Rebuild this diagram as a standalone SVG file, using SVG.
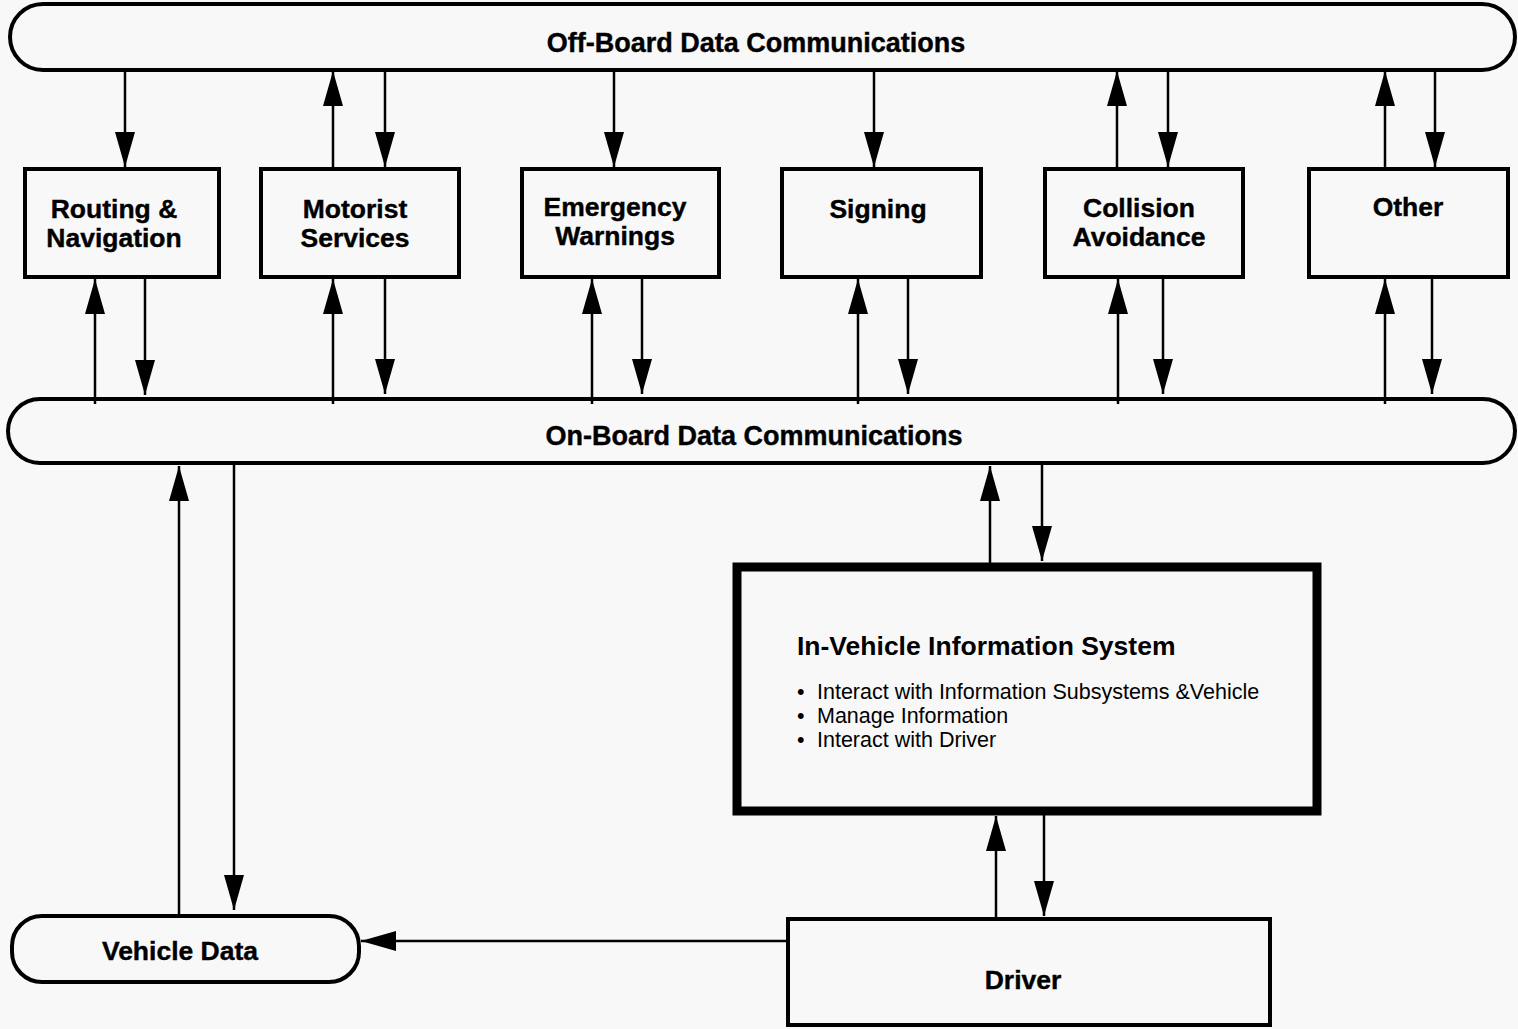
<svg xmlns="http://www.w3.org/2000/svg" width="1518" height="1029" viewBox="0 0 1518 1029">
<defs>
<marker id="ah" markerUnits="userSpaceOnUse" markerWidth="36" markerHeight="22" refX="35" refY="10" orient="auto">
<path d="M0,0 L35,10 L0,20 Z" fill="#000"/>
</marker>
<style>
.bus{fill:none;stroke:#000;stroke-width:4}
.box{fill:none;stroke:#000;stroke-width:4}
.thick{fill:none;stroke:#000;stroke-width:9}
.lbl{font-family:"Liberation Sans",Arial,sans-serif;font-weight:bold;font-size:26.5px;text-anchor:middle;fill:#000;stroke:#000;stroke-width:0.4}
.ttl{font-family:"Liberation Sans",Arial,sans-serif;font-weight:bold;font-size:26.5px;fill:#000}
.bul{font-family:"Liberation Sans",Arial,sans-serif;font-size:21.5px;fill:#000}
.c{fill:none;stroke:#000;stroke-width:2.5;marker-end:url(#ah)}
</style>
</defs>
<rect width="1518" height="1029" fill="#f8f8f8"/>

<g id="offboard">
<rect class="bus" x="10" y="4" width="1505" height="66" rx="33"/>
<text class="lbl" x="756" y="52" style="font-size:27px">Off-Board Data Communications</text>
</g>

<g id="routing">
<rect class="box" x="25" y="169" width="194" height="108"/>
<text class="lbl" x="114" y="218">Routing &amp;</text>
<text class="lbl" x="114" y="247">Navigation</text>
</g>
<g id="motorist">
<rect class="box" x="261" y="169" width="198" height="108"/>
<text class="lbl" x="355" y="218">Motorist</text>
<text class="lbl" x="355" y="247">Services</text>
</g>
<g id="emergency">
<rect class="box" x="522" y="169" width="197" height="108"/>
<text class="lbl" x="615" y="216">Emergency</text>
<text class="lbl" x="615" y="245">Warnings</text>
</g>
<g id="signing">
<rect class="box" x="782" y="169" width="199" height="108"/>
<text class="lbl" x="878" y="218">Signing</text>
</g>
<g id="collision">
<rect class="box" x="1045" y="169" width="198" height="108"/>
<text class="lbl" x="1139" y="217">Collision</text>
<text class="lbl" x="1139" y="246">Avoidance</text>
</g>
<g id="other">
<rect class="box" x="1309" y="169" width="199" height="108"/>
<text class="lbl" x="1408" y="216">Other</text>
</g>

<g id="onboard">
<rect class="bus" x="8" y="399" width="1507" height="64" rx="32"/>
<text class="lbl" x="754" y="445" style="font-size:27px">On-Board Data Communications</text>
</g>

<g id="ivis">
<rect class="thick" x="737" y="567" width="580" height="244"/>
<text class="ttl" x="797" y="655">In-Vehicle Information System</text>
<text class="bul" x="797" y="699">•</text>
<text class="bul" x="817" y="699">Interact with Information Subsystems &amp;Vehicle</text>
<text class="bul" x="797" y="723">•</text>
<text class="bul" x="817" y="723">Manage Information</text>
<text class="bul" x="797" y="747">•</text>
<text class="bul" x="817" y="747">Interact with Driver</text>
</g>

<g id="vehicledata">
<rect class="bus" x="12" y="916" width="347" height="66" rx="30"/>
<text class="lbl" x="180" y="960">Vehicle Data</text>
</g>

<g id="driver">
<rect class="box" x="788" y="919" width="482" height="106"/>
<text class="lbl" x="1023" y="989">Driver</text>
</g>

<g id="connectors">
<line class="c" x1="125" y1="70" x2="125" y2="167"/>
<line class="c" x1="333" y1="169" x2="333" y2="71"/>
<line class="c" x1="385" y1="70" x2="385" y2="167"/>
<line class="c" x1="614" y1="70" x2="614" y2="167"/>
<line class="c" x1="874" y1="70" x2="874" y2="167"/>
<line class="c" x1="1117" y1="169" x2="1117" y2="71"/>
<line class="c" x1="1168" y1="70" x2="1168" y2="167"/>
<line class="c" x1="1385" y1="169" x2="1385" y2="71"/>
<line class="c" x1="1435" y1="70" x2="1435" y2="167"/>

<line class="c" x1="95" y1="404" x2="95" y2="279"/>
<line class="c" x1="145" y1="278" x2="145" y2="395"/>
<line class="c" x1="333" y1="404" x2="333" y2="279"/>
<line class="c" x1="385" y1="278" x2="385" y2="394"/>
<line class="c" x1="592" y1="404" x2="592" y2="279"/>
<line class="c" x1="642" y1="278" x2="642" y2="394"/>
<line class="c" x1="858" y1="404" x2="858" y2="279"/>
<line class="c" x1="908" y1="278" x2="908" y2="394"/>
<line class="c" x1="1118" y1="404" x2="1118" y2="279"/>
<line class="c" x1="1163" y1="278" x2="1163" y2="394"/>
<line class="c" x1="1385" y1="404" x2="1385" y2="279"/>
<line class="c" x1="1432" y1="278" x2="1432" y2="394"/>

<line class="c" x1="179" y1="915" x2="179" y2="466"/>
<line class="c" x1="234" y1="463" x2="234" y2="910"/>

<line class="c" x1="990" y1="563" x2="990" y2="466"/>
<line class="c" x1="1042" y1="463" x2="1042" y2="561"/>

<line class="c" x1="996" y1="918" x2="996" y2="816"/>
<line class="c" x1="1044" y1="815" x2="1044" y2="916"/>

<line class="c" x1="787" y1="941" x2="361" y2="941"/>
</g>
</svg>
